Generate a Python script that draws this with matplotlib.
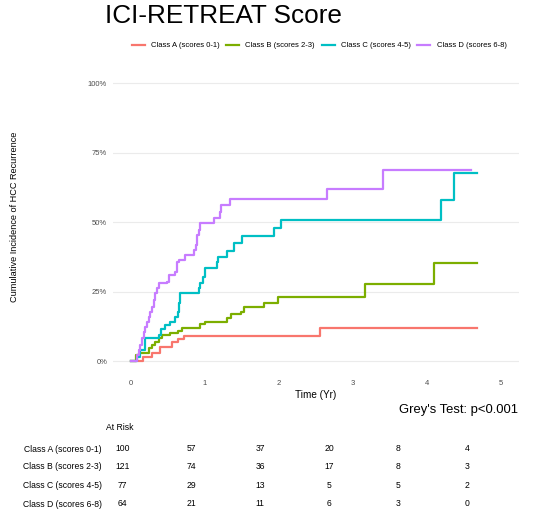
import matplotlib
matplotlib.use("Agg")
import matplotlib.pyplot as plt

plt.rcParams['font.family'] = ['Liberation Sans', 'DejaVu Sans']

# cumulative incidence (%) step curves
classes = ["Class A (scores 0-1)", "Class B (scores 2-3)",
           "Class C (scores 4-5)", "Class D (scores 6-8)"]
colors = ["#F8766D", "#7CAE00", "#00BFC4", "#C77CFF"]

a_time = [0, 0.162, 0.284, 0.396, 0.554, 0.63, 0.711, 2.558, 4.675]
a_cif = [0, 1.6, 2.8, 5.2, 7.0, 7.8, 9.1, 12.0, 12.0]

b_time = [0, 0.072, 0.103, 0.238, 0.284, 0.328, 0.373, 0.419, 0.522, 0.63, 0.689,
          0.936, 1.004, 1.297, 1.351, 1.486, 1.522, 1.792, 1.981, 3.166, 4.099, 4.675]
b_cif = [0, 2.2, 3.0, 4.6, 5.8, 7.0, 8.2, 9.4, 10.0, 10.9, 12.0,
         13.2, 14.2, 15.4, 16.8, 17.8, 19.6, 21.0, 22.9, 27.7, 35.4, 35.4]

c_time = [0, 0.081, 0.126, 0.184, 0.373, 0.41, 0.464, 0.531, 0.599, 0.635, 0.653,
          0.666, 0.923, 0.936, 0.968, 0.995, 1.162, 1.18, 1.297, 1.387, 1.5,
          1.927, 2.027, 4.2, 4.373, 4.675]
c_cif = [0, 1.5, 4.0, 8.2, 9.4, 11.4, 13.0, 14.2, 16.0, 17.8, 20.8,
         24.4, 26.2, 28.0, 30.4, 33.4, 35.8, 37.6, 39.7, 42.4, 45.0,
         48.0, 50.8, 58.0, 67.6, 67.6]

d_time = [0, 0.081, 0.103, 0.126, 0.149, 0.170, 0.193, 0.216, 0.238, 0.261, 0.284,
          0.305, 0.328, 0.351, 0.373, 0.486, 0.508, 0.599, 0.622, 0.643, 0.734,
          0.846, 0.878, 0.892, 0.914, 0.936, 1.116, 1.207, 1.220, 1.332, 2.649,
          3.405, 4.595]
d_cif = [0, 2.2, 4.0, 5.8, 8.3, 10.6, 12.4, 14.2, 16.0, 17.8, 19.6,
         22.0, 24.4, 26.2, 28.0, 28.6, 31.0, 32.2, 35.8, 36.4, 38.2,
         40.0, 41.8, 45.4, 47.2, 49.6, 51.4, 53.8, 56.2, 58.2, 61.8,
         68.8, 68.8]

x_ticks = [0, 1, 2, 3, 4, 5]
y_ticks = [0, 25, 50, 75, 100]
y_labels = ["0%", "25%", "50%", "75%", "100%"]

risk_times = [0, 1, 2, 3, 4, 5]
risk_a = [100, 57, 37, 20, 8, 4]
risk_b = [121, 74, 36, 17, 8, 3]
risk_c = [77, 29, 13, 5, 5, 2]
risk_d = [64, 21, 11, 6, 3, 0]

W, H = 560, 518
fig = plt.figure(figsize=(W / 100, H / 100), dpi=100)


def fx(p):
    return p / W


def fy(p):
    return 1 - p / H


# main panel
ax = fig.add_axes([fx(112.7), fy(374.9), fx(519 - 112.7), (374.9 - 69.4) / H])
curves = [(a_time, a_cif), (b_time, b_cif), (c_time, c_cif), (d_time, d_cif)]
for (t, v), lab, col in zip(curves, classes, colors):
    ax.step(t, v, where="post", color=col, lw=1.6, label=lab)

ax.set_xlim(-0.25, 5.25)
ax.set_ylim(-5, 105)
ax.set_xticks(x_ticks)
ax.set_yticks(y_ticks)
ax.set_yticklabels(y_labels)
ax.tick_params(length=0, labelsize=5.5, colors="#4D4D4D", pad=4)
ax.grid(axis="y", color="#EBEBEB", lw=0.8)
ax.set_axisbelow(True)
for s in ax.spines.values():
    s.set_visible(False)
ax.set_xlabel("Time (Yr)", fontsize=7.2, labelpad=2)
ax.set_ylabel("Cumulative Incidence of HCC Recurrence", fontsize=6.6)
ax.yaxis.set_label_coords((19.3 - 112.7) / (519 - 112.7), (374.9 - 216.5) / (374.9 - 69.4))

fig.text(fx(105), fy(23.3), "ICI-RETREAT Score", fontsize=18.8, va="baseline", ha="left")

fig.legend(loc="center", bbox_to_anchor=(fx(319), fy(45.7)), ncol=4, frameon=False,
           fontsize=5.5, handlelength=1.7, handletextpad=0.8, columnspacing=0.9)

fig.text(fx(518), fy(410), "Grey's Test: p<0.001", fontsize=9.4, ha="right", va="center")

# risk table
tab = fig.add_axes([fx(105), fy(512), fx(484.6 - 105), (512 - 440) / H])
tab.set_xlim(-0.25, 5.25)
tab.set_ylim(3.45, -0.45)
tab.axis("off")
rows = [risk_a, risk_b, risk_c, risk_d]
for i, vals in enumerate(rows):
    for t, n in zip(risk_times, vals):
        tab.text(t, i, str(n), fontsize=6.2, ha="center", va="center")
row_y = [449.3, 466.7, 486, 504.3]
for lab, ry in zip(classes, row_y):
    fig.text(fx(101.7), fy(ry), lab, fontsize=6.2, ha="right", va="center")
fig.text(fx(119.5), fy(428), "At Risk", fontsize=6.2, ha="center", va="center")

fig.savefig("out.png", dpi=100)
